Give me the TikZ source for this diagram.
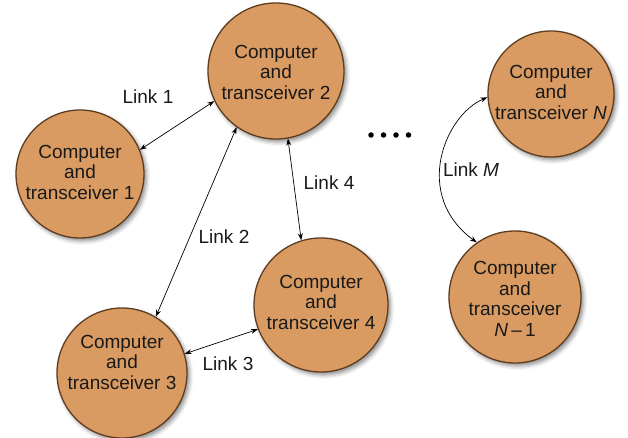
\documentclass[tikz,border=0pt]{standalone}
\usepackage{fontspec}
\setmainfont{Liberation Sans}
\usetikzlibrary{arrows.meta,shadows.blur}
\definecolor{station}{HTML}{D99B61}
\definecolor{stationrim}{HTML}{5E3C1F}
\tikzset{
  station/.style={circle, fill=station, draw=stationrim, line width=1.3pt,
    minimum size=2*#1, inner sep=0pt,
    blur shadow={shadow xshift=2.5pt, shadow yshift=-3pt, shadow blur radius=4pt, shadow opacity=45}},
  stationtext/.style={align=center, font=\fontsize{19}{20.5}\selectfont, text=black!90, inner sep=0pt},
  link/.style={<->, >={Stealth[length=7pt,width=5pt]}, line width=0.7pt},
  linklabel/.style={font=\fontsize{19}{21}\selectfont, text=black!90, inner sep=0pt},
  dot/.style={circle, fill=black, inner sep=0pt, minimum size=5.5pt}
}
\begin{document}
\begin{tikzpicture}[x=1pt, y=-1pt]
\useasboundingbox (0,0) rectangle (628,438);

% stations
\node[station=64pt] (n1) at (80,174) {};
\node[station=68pt] (n2) at (276,71) {};
\node[station=65pt] (n3) at (122,373) {};
\node[station=67pt] (n4) at (321,305) {};
\node[station=63pt] (nN) at (551,94) {};
\node[station=66pt] (nN1) at (515,297) {};

\node[stationtext] (t1) at (80,172) {Computer\\and\\transceiver 1};
\node[stationtext] (t2) at (276,72) {Computer\\and\\transceiver 2};
\node[stationtext] (t3) at (122,362) {Computer\\and\\transceiver 3};
\node[stationtext] (t4) at (321,302) {Computer\\and\\transceiver 4};
\node[stationtext] (tN) at (551,92) {Computer\\and\\transceiver \textit{N}};
\node[stationtext] (tN1) at (515,299) {Computer\\and\\transceiver\\\textit{N}\,\textendash\,1};

% links
\draw[link] (n1.22) -- (n2.206);
\draw[link] (n3.59) -- (n2.235);
\draw[link] (n2.280) -- (n4.107);
\draw[link] (n3.17) -- (n4.201);
\draw[link] (nN.183) .. controls (445,115) and (412,195) .. (nN1.125);

\node[linklabel] (l1) at (148,97) {Link 1};
\node[linklabel] (l2) at (224,237) {Link 2};
\node[linklabel] (l3) at (228,364) {Link 3};
\node[linklabel] (l4) at (329,183) {Link 4};
\node[linklabel] (lM) at (471,170) {Link \textit{M}};

% more stations in between
\node[dot] (d1) at (371,135) {};
\node[dot] (d2) at (383.5,135) {};
\node[dot] (d3) at (396,135) {};
\node[dot] (d4) at (408.5,135) {};
\end{tikzpicture}
\end{document}
